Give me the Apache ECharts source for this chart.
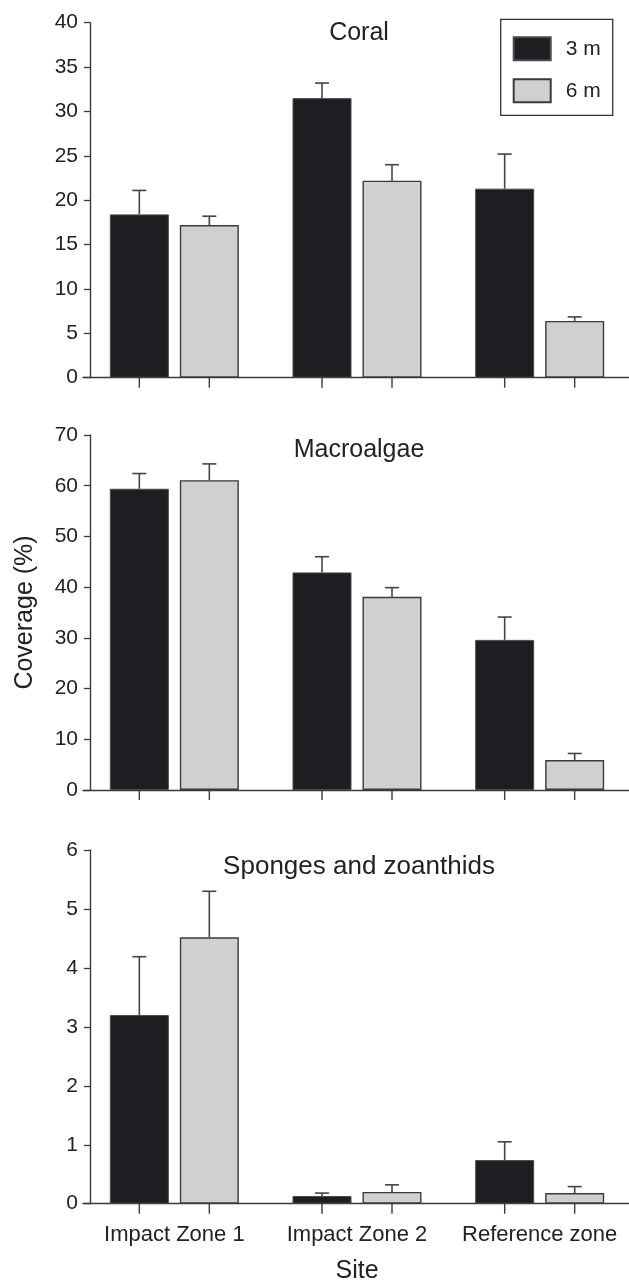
<!DOCTYPE html>
<html>
<head>
<meta charset="utf-8">
<script src="https://cdn.jsdelivr.net/npm/echarts@6/dist/echarts.min.js"></script>
<style>
html,body{margin:0;padding:0;background:#fff;}
#chart{width:629px;height:1282px;}
</style>
</head>
<body>
<div id="chart"></div>
<script>
// ---- data ----
const categories = ['Impact Zone 1', 'Impact Zone 2', 'Reference zone'];
const seriesNames = ['3 m', '6 m'];
const panelTitles = ['Coral', 'Macroalgae', 'Sponges and zoanthids'];

const coral3 = [18.4, 31.5, 21.3];
const coral3Err = [2.7, 1.7, 3.9];
const coral6 = [17.2, 22.2, 6.4];
const coral6Err = [1.0, 1.8, 0.45];

const macro3 = [59.4, 42.9, 29.6];
const macro3Err = [3.0, 3.1, 4.5];
const macro6 = [61.1, 38.1, 5.9];
const macro6Err = [3.2, 1.8, 1.3];

const sponge3 = [3.2, 0.13, 0.74];
const sponge3Err = [0.99, 0.05, 0.31];
const sponge6 = [4.52, 0.2, 0.18];
const sponge6Err = [0.78, 0.12, 0.11];

const yMax = [40, 70, 6];
const yInterval = [5, 10, 1];

// ---- style ----
const FONT = "'Liberation Sans', Arial, Helvetica, sans-serif";
const TEXT = '#222';
const LINE = '#3a3a3a';
const BLACK = '#1d1e21';
const GRAY = '#cfd0d2';
const BAR_W = 59;
const BAR_GAP_PX = 11;

const panels = [
  {v3: coral3, e3: coral3Err, v6: coral6, e6: coral6Err},
  {v3: macro3, e3: macro3Err, v6: macro6, e6: macro6Err},
  {v3: sponge3, e3: sponge3Err, v6: sponge6, e6: sponge6Err}
];

const grids = [
  {left: 83, width: 548, top: 22.7, height: 355, outerBoundsMode: 'none', containLabel: false},
  {left: 83, width: 548, top: 435, height: 355, outerBoundsMode: 'none', containLabel: false},
  {left: 83, width: 548, top: 850, height: 353.7, outerBoundsMode: 'none', containLabel: false}
];

const chart = echarts.init(document.getElementById('chart'), null, {renderer: 'canvas'});

const xAxes = grids.map((g, i) => ({
  type: 'category',
  gridIndex: i,
  data: categories,
  axisLine: {lineStyle: {color: LINE, width: 1.4}},
  axisTick: {show: false},
  axisLabel: {show: i === 2, interval: 0, fontSize: 22, color: TEXT, fontFamily: FONT, margin: 20},
  name: i === 2 ? 'Site' : '',
  nameLocation: 'middle',
  nameGap: 55,
  nameTextStyle: {fontSize: 25, color: TEXT, fontFamily: FONT}
}));

const yAxes = grids.map((g, i) => ({
  type: 'value',
  gridIndex: i,
  min: 0,
  max: yMax[i],
  interval: yInterval[i],
  offset: -7,
  splitLine: {show: false},
  axisLine: {show: true, lineStyle: {color: LINE, width: 1.4}},
  axisTick: {show: true, length: 6, lineStyle: {color: LINE, width: 1.3}},
  axisLabel: {fontSize: 21, color: TEXT, fontFamily: FONT, margin: 12},
  name: i === 1 ? 'Coverage (%)' : '',
  nameLocation: 'middle',
  nameRotate: 90,
  nameGap: 52,
  nameTextStyle: {fontSize: 25, color: TEXT, fontFamily: FONT}
}));

const series = [];
panels.forEach((p, i) => {
  series.push({
    name: seriesNames[0], type: 'bar', xAxisIndex: i, yAxisIndex: i,
    data: p.v3, barWidth: BAR_W, barGap: (BAR_GAP_PX / BAR_W * 100) + '%',
    itemStyle: {color: BLACK, borderColor: '#4a4a4a', borderWidth: 1},
    emphasis: {disabled: true}, z: 2
  });
  series.push({
    name: seriesNames[1], type: 'bar', xAxisIndex: i, yAxisIndex: i,
    data: p.v6, barWidth: BAR_W, barGap: (BAR_GAP_PX / BAR_W * 100) + '%',
    itemStyle: {color: GRAY, borderColor: LINE, borderWidth: 1.4},
    emphasis: {disabled: true}, z: 2
  });
  const errData = [];
  categories.forEach((c, k) => {
    errData.push([k, 0, p.v3[k], p.e3[k]]);
    errData.push([k, 1, p.v6[k], p.e6[k]]);
  });
  series.push({
    type: 'custom', xAxisIndex: i, yAxisIndex: i, z: 3, silent: true,
    encode: {x: 0, y: 2},
    data: errData,
    renderItem: function (params, api) {
      const cat = api.value(0), s = api.value(1), v = api.value(2), e = api.value(3);
      const off = (s === 0 ? -1 : 1) * (BAR_W + BAR_GAP_PX) / 2;
      const base = api.coord([cat, v]);
      const top = api.coord([cat, v + e]);
      const zero = api.coord([cat, 0]);
      const x = base[0] + off;
      const st = {stroke: '#444', lineWidth: 1.6};
      return {
        type: 'group',
        children: [
          {type: 'line', shape: {x1: x, y1: base[1], x2: x, y2: top[1]}, style: st},
          {type: 'line', shape: {x1: x - 7, y1: top[1], x2: x + 7, y2: top[1]}, style: st},
          {type: 'line', shape: {x1: x, y1: zero[1], x2: x, y2: zero[1] + 10}, style: {stroke: LINE, lineWidth: 1.4}}
        ]
      };
    }
  });
});

const titleTops = [21, 437.5, 853.5];
const titleSizes = [25, 25, 26];
const option = {
  animation: false,
  backgroundColor: '#fff',
  textStyle: {fontFamily: FONT},
  title: panelTitles.map((t, i) => ({
    text: t, left: 359, top: titleTops[i], textAlign: 'center', padding: 0,
    textStyle: {fontSize: titleSizes[i], fontWeight: 'normal', color: TEXT, fontFamily: FONT}
  })),
  legend: {
    data: seriesNames,
    orient: 'vertical',
    left: 500.7, top: 19.3,
    itemWidth: 37, itemHeight: 23, itemGap: 17,
    padding: [17, 12, 12, 12],
    borderColor: '#333', borderWidth: 1.3,
    icon: 'rect',
    selectedMode: false,
    textStyle: {fontSize: 21, color: TEXT, fontFamily: FONT, padding: [0, 0, 0, 10]}
  },
  grid: grids,
  xAxis: xAxes,
  yAxis: yAxes,
  series: series
};
chart.setOption(option);
</script>
</body>
</html>
